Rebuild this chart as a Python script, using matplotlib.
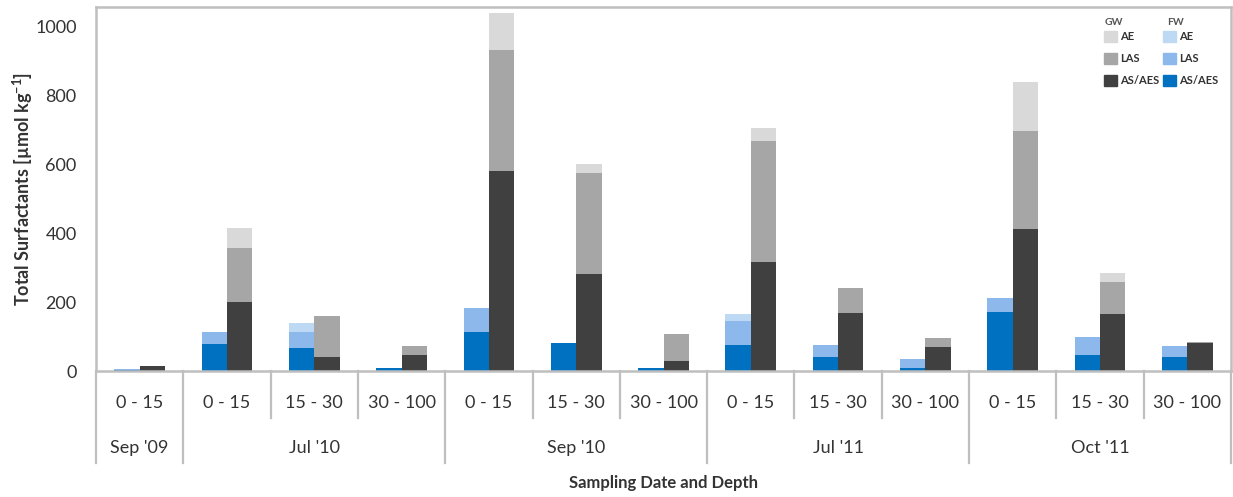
import matplotlib
matplotlib.use("Agg")
import matplotlib.pyplot as plt
import numpy as np
from matplotlib.patches import Patch

plt.rcParams['font.family'] = ['Lato', 'DejaVu Sans']
plt.rcParams['mathtext.default'] = 'regular'

# Sampling campaigns and depth intervals (cm)
depths = ['0 - 15',
          '0 - 15', '15 - 30', '30 - 100',
          '0 - 15', '15 - 30', '30 - 100',
          '0 - 15', '15 - 30', '30 - 100',
          '0 - 15', '15 - 30', '30 - 100']
dates = ["Sep '09", "Jul '10", "Sep '10", "Jul '11", "Oct '11"]
date_sizes = [1, 3, 3, 3, 3]

# Fresh water (FW) irrigated soil, µmol/kg
fw_as_aes = [1.5, 77, 66, 10, 112, 80, 10, 75, 41, 10, 172, 46, 41]
fw_las    = [3,   37, 48, 0,  70,  0,  0,  71, 34, 24, 41,  52, 32]
fw_ae     = [0,   0,  26, 0,  0,   0,  0,  18, 0,  0,  0,   0,  0]

# Grey water (GW) irrigated soil, µmol/kg
gw_as_aes = [15, 201, 41,  46, 579, 282, 30, 317, 167, 69, 411, 165, 82]
gw_las    = [0,  155, 119, 27, 353, 292, 76, 349, 73,  26, 284, 94,  1]
gw_ae     = [0,  58,  0,   0,  108, 27,  0,  40,  0,   0,  142, 26,  0]

fw_colors = ['#0070C0', '#8DB8EC', '#BDD9F3']
gw_colors = ['#404040', '#A6A6A6', '#D9D9D9']
text_col = '#333333'
frame_col = '#BFBFBF'

fig = plt.figure(figsize=(12.33, 4.97), dpi=100)
ax = fig.add_axes([96 / 1233, 126 / 497, 1135 / 1233, 364 / 497])

x = np.arange(len(depths))
w = 0.29

def stack(xpos, layers, colors):
    bottom = np.zeros(len(xpos))
    for vals, c in zip(layers, colors):
        vals = np.asarray(vals, dtype=float)
        ax.bar(xpos, vals, w, bottom=bottom, color=c, linewidth=0, zorder=2)
        bottom += vals

stack(x - w / 2, [fw_as_aes, fw_las, fw_ae], fw_colors)
stack(x + w / 2, [gw_as_aes, gw_las, gw_ae], gw_colors)

ax.set_xlim(-0.5, len(depths) - 0.5)
ax.set_ylim(0, 1056)
ax.set_yticks([0, 200, 400, 600, 800, 1000])
ax.tick_params(axis='y', length=0, labelsize=13, colors=text_col, pad=14)
ax.set_xticks([])

for side in ['top', 'right', 'left', 'bottom']:
    ax.spines[side].set_color(frame_col)
    ax.spines[side].set_linewidth(1.8)

ax.set_ylabel('Total Surfactants [µmol kg$^{-1}$]', fontsize=13,
              fontweight='bold', color=text_col, labelpad=0)

# Category table under the axis
trans = ax.get_xaxis_transform()
boundaries = np.cumsum([0] + date_sizes) - 0.5
for b in np.arange(-0.5, len(depths), 1.0):
    long_line = np.any(np.isclose(boundaries, b))
    y_end = -0.253 if long_line else -0.129
    ax.plot([b, b], [0, y_end], transform=trans, color=frame_col,
            lw=1.6, clip_on=False, zorder=1)

for xi, lab in zip(x, depths):
    ax.text(xi, -0.088, lab, transform=trans, ha='center', va='center',
            fontsize=13, color=text_col)

for d, lo, hi in zip(dates, boundaries[:-1], boundaries[1:]):
    ax.text((lo + hi) / 2, -0.212, d, transform=trans, ha='center',
            va='center', fontsize=13, color=text_col)

ax.text(0.5, -0.308, 'Sampling Date and Depth', transform=ax.transAxes,
        ha='center', va='center', fontsize=12, fontweight='bold',
        color=text_col)

# Legend: GW column and FW column
labels = ['AE', 'LAS', 'AS/AES']
handles = [Patch(color=c) for c in gw_colors[::-1]] + \
          [Patch(color=c) for c in fw_colors[::-1]]
leg = ax.legend(handles, labels + labels, ncol=2, frameon=False,
                loc='upper left', bbox_to_anchor=(0.888, 0.935),
                handlelength=1.2, handleheight=1.2, handletextpad=0.25,
                columnspacing=0.3, labelspacing=0.95, borderpad=0,
                borderaxespad=0, prop={'size': 8, 'weight': 'bold'})
for t in leg.get_texts():
    t.set_color(text_col)
ax.text(0.8885, 0.958, 'GW', transform=ax.transAxes, fontsize=7.5,
        fontweight='bold', color='#555555', va='center')
ax.text(0.9435, 0.958, 'FW', transform=ax.transAxes, fontsize=7.5,
        fontweight='bold', color='#555555', va='center')

fig.savefig('out.png', dpi=100, facecolor='white')
